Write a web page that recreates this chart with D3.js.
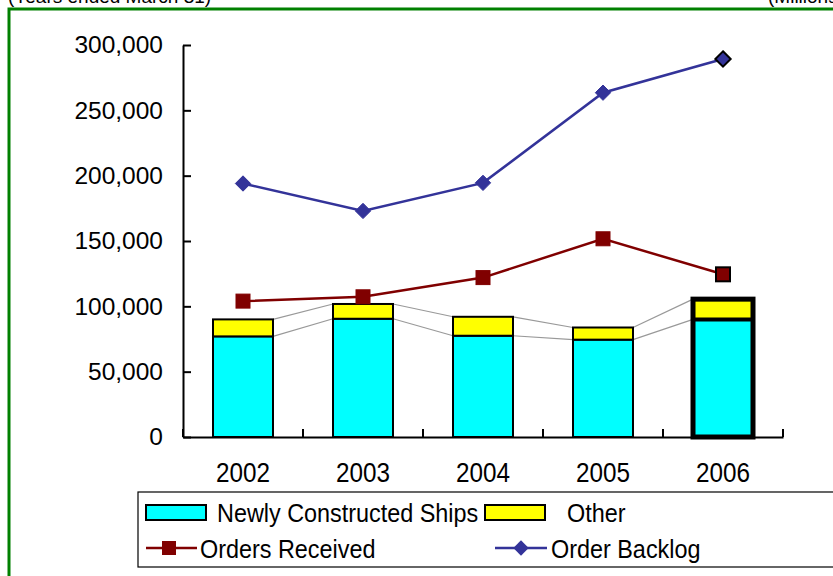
<!DOCTYPE html>
<html>
<head>
<meta charset="utf-8">
<script src="https://cdn.jsdelivr.net/npm/d3@7/dist/d3.min.js"></script>
<style>
  html, body { margin: 0; padding: 0; background: #fff; }
  svg { display: block; }
  text { font-family: "Liberation Sans", Arial, sans-serif; fill: #000; }
</style>
</head>
<body>
<svg id="chart" width="833" height="576"></svg>
<script>
// Fiscal years (ended March 31)
const years = ["2002", "2003", "2004", "2005", "2006"];
// Net sales, millions of yen
const newShips = [77000, 90500, 77500, 74500, 90000];
const otherSales = [13000, 11300, 14500, 9300, 15500];
// Orders
const ordersReceived = [104000, 107300, 122000, 151700, 124500];
const orderBacklog = [194000, 173000, 194500, 263500, 289300];
const yTicks = [0, 50000, 100000, 150000, 200000, 250000, 300000];

const svg = d3.select("#chart");

// outer frame and captions
svg.append("rect").attr("x", 9).attr("y", 9).attr("width", 900).attr("height", 600)
  .attr("fill", "none").attr("stroke", "#008000").attr("stroke-width", 3);
svg.append("text").attr("x", 8).attr("y", 3).attr("font-size", 19).text("(Years ended March 31)");
svg.append("text").attr("x", 768).attr("y", 3).attr("font-size", 19).text("(Millions of yen)");

const x = d3.scaleBand().domain(years).range([183, 783]).padding(0);
const y = d3.scaleLinear().domain([0, 300000]).range([437, 45]);
const barW = x.bandwidth() / 2;
const bx = d => x(d) + (x.bandwidth() - barW) / 2;

const stacks = years.map((yr, i) => ({
  year: yr, ships: newShips[i], total: newShips[i] + otherSales[i]
}));

// series lines between stacked segments
const g = svg.append("g");
for (let i = 0; i < stacks.length - 1; i++) {
  const a = stacks[i], b = stacks[i + 1];
  ["ships", "total"].forEach(k => {
    g.append("line")
      .attr("x1", bx(a.year) + barW).attr("y1", y(a[k]))
      .attr("x2", bx(b.year)).attr("y2", y(b[k]))
      .attr("stroke", "#999").attr("stroke-width", 1.2);
  });
}

// stacked bars
stacks.forEach(s => {
  g.append("rect").attr("x", bx(s.year)).attr("y", y(s.ships))
    .attr("width", barW).attr("height", y(0) - y(s.ships))
    .attr("fill", "#00ffff").attr("stroke", "#000").attr("stroke-width", 2);
  g.append("rect").attr("x", bx(s.year)).attr("y", y(s.total))
    .attr("width", barW).attr("height", y(s.ships) - y(s.total))
    .attr("fill", "#ffff00").attr("stroke", "#000").attr("stroke-width", 2);
});
// last bar outlined heavily
const last = stacks[stacks.length - 1];
g.append("rect").attr("x", bx(last.year)).attr("y", y(last.total))
  .attr("width", barW).attr("height", y(0) - y(last.total))
  .attr("fill", "none").attr("stroke", "#000").attr("stroke-width", 5);
g.append("line").attr("x1", bx(last.year)).attr("x2", bx(last.year) + barW)
  .attr("y1", y(last.ships)).attr("y2", y(last.ships))
  .attr("stroke", "#000").attr("stroke-width", 4);

// y axis
const yAxis = d3.axisLeft(y).tickValues(yTicks).tickFormat(d3.format(","))
  .tickSizeInner(-8).tickSizeOuter(0).tickPadding(20);
const ya = svg.append("g").attr("transform", "translate(183,0)").call(yAxis);
ya.selectAll("path,line").attr("stroke", "#000").attr("stroke-width", 2);
ya.selectAll("text").attr("font-size", 24.5).attr("font-family", "Liberation Sans, Arial, sans-serif");

// x axis
const xAxis = d3.axisBottom(x).tickSize(0).tickPadding(26);
const xa = svg.append("g").attr("transform", "translate(0,437)").call(xAxis);
xa.select("path").attr("stroke", "#000").attr("stroke-width", 2);
xa.selectAll(".tick text").attr("font-size", 27)
  .attr("font-family", "Liberation Sans, Arial, sans-serif")
  .attr("transform", "scale(0.9,1)");
const bounds = years.map(d => x(d)).concat([x.range()[1]]);
xa.selectAll(".bound").data(bounds).enter().append("line").attr("class", "bound")
  .attr("x1", d => d).attr("x2", d => d).attr("y1", 0).attr("y2", -8)
  .attr("stroke", "#000").attr("stroke-width", 2);

// lines
const cx = d => x(d) + x.bandwidth() / 2;
const lineGen = d3.line().x(d => cx(d[0])).y(d => y(d[1]));
const recData = years.map((d, i) => [d, ordersReceived[i]]);
const backData = years.map((d, i) => [d, orderBacklog[i]]);

svg.append("path").datum(recData).attr("d", lineGen)
  .attr("fill", "none").attr("stroke", "#800000").attr("stroke-width", 2.5);
svg.append("path").datum(backData).attr("d", lineGen)
  .attr("fill", "none").attr("stroke", "#333399").attr("stroke-width", 2.5);

const sq = 14;
svg.selectAll(".rec").data(recData).enter().append("rect").attr("class", "rec")
  .attr("x", d => cx(d[0]) - sq / 2).attr("y", d => y(d[1]) - sq / 2)
  .attr("width", sq).attr("height", sq).attr("fill", "#800000")
  .attr("stroke", (d, i) => i === years.length - 1 ? "#000" : "#800000")
  .attr("stroke-width", (d, i) => i === years.length - 1 ? 2 : 1);

const diamond = d3.symbol().type(d3.symbolDiamond2).size(150);
svg.selectAll(".back").data(backData).enter().append("path").attr("class", "back")
  .attr("transform", d => `translate(${cx(d[0])},${y(d[1])})`)
  .attr("d", diamond).attr("fill", "#333399")
  .attr("stroke", (d, i) => i === years.length - 1 ? "#000" : "#333399")
  .attr("stroke-width", (d, i) => i === years.length - 1 ? 2 : 1);

// legend
const lg = svg.append("g");
lg.append("rect").attr("x", 138).attr("y", 492).attr("width", 760).attr("height", 75)
  .attr("fill", "#fff").attr("stroke", "#000").attr("stroke-width", 1.2);
const legendText = (x0, y0, label) =>
  lg.append("text").attr("transform", `translate(${x0},${y0}) scale(0.9,1)`)
    .attr("font-size", 26).text(label);
lg.append("rect").attr("x", 146).attr("y", 505).attr("width", 60).attr("height", 15)
  .attr("fill", "#00ffff").attr("stroke", "#000").attr("stroke-width", 2);
legendText(217, 522, "Newly Constructed Ships");
lg.append("rect").attr("x", 485).attr("y", 505).attr("width", 60).attr("height", 15)
  .attr("fill", "#ffff00").attr("stroke", "#000").attr("stroke-width", 2);
legendText(567, 522, "Other");

lg.append("line").attr("x1", 146).attr("x2", 197).attr("y1", 548).attr("y2", 548)
  .attr("stroke", "#800000").attr("stroke-width", 2.5);
lg.append("rect").attr("x", 162).attr("y", 541).attr("width", 14).attr("height", 14).attr("fill", "#800000");
legendText(200, 558, "Orders Received");
lg.append("line").attr("x1", 495).attr("x2", 547).attr("y1", 548).attr("y2", 548)
  .attr("stroke", "#333399").attr("stroke-width", 2.5);
lg.append("path").attr("transform", "translate(521,548)").attr("d", diamond).attr("fill", "#333399");
legendText(551, 558, "Order Backlog");
</script>
</body>
</html>
